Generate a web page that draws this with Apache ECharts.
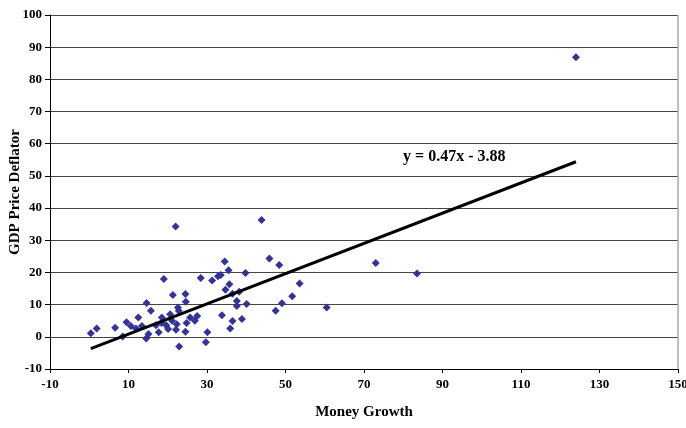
<!DOCTYPE html>
<html>
<head>
<meta charset="utf-8">
<script src="https://cdn.jsdelivr.net/npm/echarts@6/dist/echarts.min.js"></script>
<style>html,body{margin:0;padding:0;background:#fff}#c{width:686px;height:428px}</style>
</head>
<body>
<div id="c"></div>
<script>
// Money growth (x) vs GDP price deflator (y)
const moneyGrowth = [0.4,1.9,6.6,8.5,9.5,10.6,12.5,11.9,13.4,14.6,15.7,14.5,15.1,17.0,17.7,18.5,19.0,18.4,19.6,20.1,20.6,21.1,21.3,22.0,22.3,22.1,22.6,22.8,22.9,24.5,24.6,24.5,24.8,25.7,26.9,27.5,28.4,29.7,30.1,31.3,32.8,33.5,33.8,34.5,35.5,35.7,34.7,36.5,35.9,36.5,37.6,37.6,38.2,38.9,39.8,40.1,43.9,45.9,47.5,48.4,49.1,51.7,53.6,60.5,73.0,83.5,124.0];
const deflator    = [1.1,2.6,2.8,0.1,4.5,3.4,6.0,2.6,3.4,10.5,8.1,-0.5,0.9,3.6,1.4,6.0,18.0,4.3,3.6,2.4,7.0,5.0,13.0,34.3,3.9,2.2,9.1,8.1,-3.0,13.3,10.9,1.6,4.3,6.0,5.0,6.5,18.3,-1.7,1.4,17.5,18.8,19.2,6.7,23.4,20.7,16.3,14.6,13.4,2.6,4.9,11.1,9.6,14.0,5.5,19.8,10.2,36.3,24.3,8.1,22.3,10.4,12.6,16.6,9.1,22.9,19.7,86.9];
const xTicks = ['-10','10','30','50','70','90','110','130','150'];
const yTicks = ['-10','0','10','20','30','40','50','60','70','80','90','100'];
const slope = 0.47, intercept = -3.88;
const eqText = 'y = 0.47x - 3.88';
const eqPos = [93, 55.8];

const pts = moneyGrowth.map((x,i)=>[x, deflator[i]]);
const xMin = Math.min(...moneyGrowth), xMax = Math.max(...moneyGrowth);
const trend = [[xMin, slope*xMin+intercept],[xMax, slope*xMax+intercept]];

const font = {fontFamily:'"Liberation Serif", "Times New Roman", serif', fontWeight:'bold', color:'#000'};
const chart = echarts.init(document.getElementById('c'));
chart.setOption({
  animation:false,
  backgroundColor:'#fff',
  grid:{left:50,right:8,top:15,bottom:59,containLabel:false,outerBoundsMode:'none',show:false},
  xAxis:{type:'value',min:-10,max:150,interval:20,
    name:'Money Growth',nameLocation:'middle',nameGap:36,nameMoveOverlap:false,
    nameTextStyle:Object.assign({fontSize:15},font),
    axisLine:{show:true,onZero:false,lineStyle:{color:'#000',width:1}},
    axisTick:{show:true,length:4,lineStyle:{color:'#000'}},
    splitLine:{show:false},
    axisLabel:Object.assign({fontSize:13,margin:9,formatter:(v)=>{const i=Math.round((v+10)/20);return xTicks[i]!==undefined?xTicks[i]:'';}},font)
  },
  yAxis:{type:'value',min:-10,max:100,interval:10,
    name:'GDP Price Deflator',nameLocation:'middle',nameGap:27,nameRotate:90,nameMoveOverlap:false,
    nameTextStyle:Object.assign({fontSize:15},font),
    axisLine:{show:true,onZero:false,lineStyle:{color:'#000',width:1}},
    axisTick:{show:true,length:5,lineStyle:{color:'#000'}},
    splitLine:{show:true,lineStyle:{color:'#444',width:1}},
    axisLabel:Object.assign({fontSize:13,margin:8,formatter:(v)=>{const i=Math.round((v+10)/10);return yTicks[i]!==undefined?yTicks[i]:'';}},font)
  },
  series:[
    {type:'scatter',data:pts,symbol:'diamond',symbolSize:8,itemStyle:{color:'#333399',opacity:1},z:3},
    {type:'line',data:trend,symbol:'none',lineStyle:{color:'#000',width:3},z:4,
      markPoint:{symbol:'circle',symbolSize:0,data:[{coord:eqPos}],
        label:Object.assign({show:true,position:'inside',formatter:eqText,fontSize:16},font)}}
  ]
});
// right border of plot area
const p1 = chart.convertToPixel({gridIndex:0},[150,-10]);
const p2 = chart.convertToPixel({gridIndex:0},[150,100]);
chart.setOption({graphic:[{type:'line',shape:{x1:p1[0],y1:p1[1],x2:p2[0],y2:p2[1]},style:{stroke:'#aaa',lineWidth:1.5},z:1}]});
</script>
</body>
</html>
